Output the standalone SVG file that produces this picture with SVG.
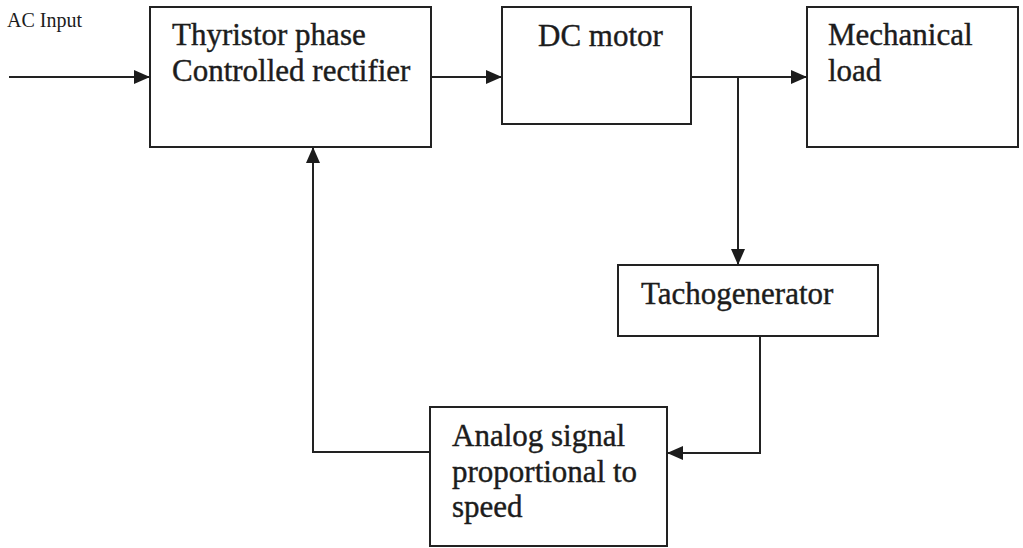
<svg xmlns="http://www.w3.org/2000/svg" width="1023" height="548" viewBox="0 0 1023 548">
  <style>
    .box { fill: #ffffff; stroke: #222222; stroke-width: 2; }
    .lbl { font-family: "Liberation Serif", "Times New Roman", serif; font-size: 31px; fill: #1c1c1c; stroke: #1c1c1c; stroke-width: 0.4; }
    .small { font-family: "Liberation Serif", "Times New Roman", serif; font-size: 20px; fill: #1c1c1c; }
    .wire { fill: none; stroke: #222222; stroke-width: 2; }
  </style>
  <defs>
    <marker id="arr" viewBox="0 0 16 14" refX="16" refY="7" markerWidth="16" markerHeight="14" markerUnits="userSpaceOnUse" orient="auto">
      <path d="M0,0 L16,7 L0,14 z" fill="#1c1c1c"/>
    </marker>
  </defs>
  <rect width="1023" height="548" fill="#ffffff"/>

  <g id="ac-input">
    <text class="small" x="7" y="27">AC Input</text>
  </g>

  <g id="rectifier">
    <rect class="box" x="150" y="7" width="281" height="140"/>
    <text class="lbl" x="172" y="45">Thyristor phase</text>
    <text class="lbl" x="172" y="81">Controlled rectifier</text>
  </g>

  <g id="dc-motor">
    <rect class="box" x="502" y="7" width="189" height="117"/>
    <text class="lbl" x="538" y="46">DC motor</text>
  </g>

  <g id="mechanical-load">
    <rect class="box" x="807" y="7" width="211" height="140"/>
    <text class="lbl" x="828" y="45">Mechanical</text>
    <text class="lbl" x="828" y="81">load</text>
  </g>

  <g id="tachogenerator">
    <rect class="box" x="618" y="265" width="260" height="71"/>
    <text class="lbl" x="641" y="304">Tachogenerator</text>
  </g>

  <g id="analog-signal">
    <rect class="box" x="430" y="407" width="237" height="139"/>
    <text class="lbl" x="452" y="446">Analog signal</text>
    <text class="lbl" x="452" y="482">proportional to</text>
    <text class="lbl" x="452" y="517">speed</text>
  </g>

  <g id="connectors">
    <path class="wire" d="M9,77 H150" marker-end="url(#arr)"/>
    <path class="wire" d="M431,77 H502" marker-end="url(#arr)"/>
    <path class="wire" d="M691,77 H807" marker-end="url(#arr)"/>
    <path class="wire" d="M738,77 V265" marker-end="url(#arr)"/>
    <path class="wire" d="M760,336 V453 H667" marker-end="url(#arr)"/>
    <path class="wire" d="M430,452 H313 V147" marker-end="url(#arr)"/>
  </g>
</svg>
